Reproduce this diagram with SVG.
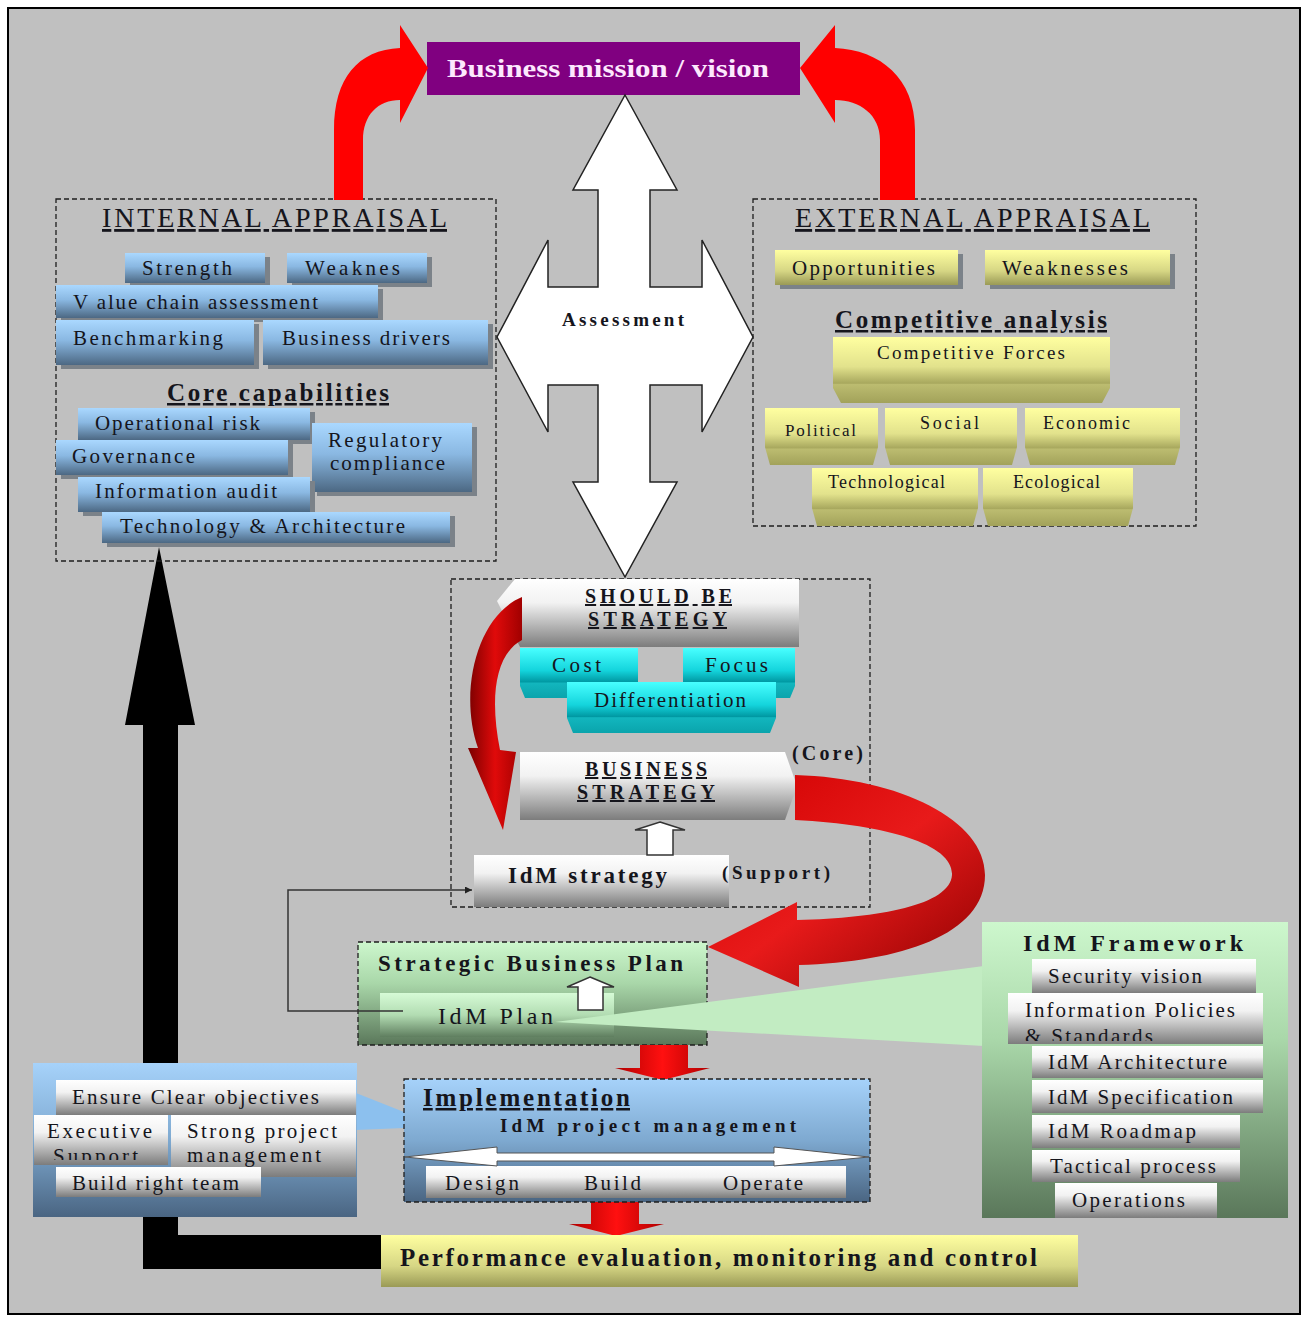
<svg xmlns="http://www.w3.org/2000/svg" width="1310" height="1318" viewBox="0 0 1310 1318">
<style>
text{font-family:"Liberation Serif","Times New Roman",serif;fill:#15151c}
.t{font-size:21px}
.s16{font-size:18px}
.b{font-weight:bold}
.u{text-decoration:underline}
.dash{fill:none;stroke:#1e1e1e;stroke-width:1.3;stroke-dasharray:5 3}
.sh{fill:#7b8289}
.blue{fill:url(#gBlue)}
.yel{fill:url(#gYel)}
.cy{fill:url(#gCyan)}
.wh{fill:url(#gWhite)}
.blk{fill:none;stroke:#333;stroke-width:1.5}
.wa{fill:#fff;stroke:#333;stroke-width:1.5}
</style>
<defs>
<linearGradient id="gBlue" x1="0" y1="0" x2="0" y2="1"><stop offset="0" stop-color="#aad8ff"/><stop offset="0.45" stop-color="#8ab8e2"/><stop offset="1" stop-color="#4c6883"/></linearGradient>
<linearGradient id="gBlueBox" x1="0" y1="0" x2="0" y2="1"><stop offset="0" stop-color="#a6d2fa"/><stop offset="0.5" stop-color="#7ea9d0"/><stop offset="1" stop-color="#4a6582"/></linearGradient>
<linearGradient id="gYel" x1="0" y1="0" x2="0" y2="1"><stop offset="0" stop-color="#ffffa0"/><stop offset="0.45" stop-color="#e2e28c"/><stop offset="0.7" stop-color="#a8a85e"/><stop offset="0.72" stop-color="#bcbc70"/><stop offset="1" stop-color="#a2a25a"/></linearGradient>
<linearGradient id="gYel2" x1="0" y1="0" x2="0" y2="1"><stop offset="0" stop-color="#ffffa0"/><stop offset="0.6" stop-color="#d6d684"/><stop offset="1" stop-color="#9a9a56"/></linearGradient>
<linearGradient id="gCyan" x1="0" y1="0" x2="0" y2="1"><stop offset="0" stop-color="#48ffff"/><stop offset="0.45" stop-color="#14d4dc"/><stop offset="0.68" stop-color="#0098a2"/><stop offset="0.7" stop-color="#12b6be"/><stop offset="1" stop-color="#0aa4ac"/></linearGradient>
<linearGradient id="gWhite" x1="0" y1="0" x2="0" y2="1"><stop offset="0" stop-color="#ffffff"/><stop offset="0.35" stop-color="#f2f2f2"/><stop offset="1" stop-color="#7c7c7c"/></linearGradient>
<linearGradient id="gGreen" x1="0" y1="0" x2="0" y2="1"><stop offset="0" stop-color="#cdf7cd"/><stop offset="0.4" stop-color="#a9d7a9"/><stop offset="1" stop-color="#5a775a"/></linearGradient>
<linearGradient id="gGreen2" x1="0" y1="0" x2="0" y2="1"><stop offset="0" stop-color="#d6fbd6"/><stop offset="0.5" stop-color="#b2dcb2"/><stop offset="1" stop-color="#5f7e5f"/></linearGradient>
<linearGradient id="gRedL" x1="0" y1="0" x2="1" y2="0"><stop offset="0" stop-color="#7a0000"/><stop offset="0.5" stop-color="#e00a0a"/><stop offset="1" stop-color="#a00000"/></linearGradient>
<linearGradient id="gRedR" x1="0" y1="0" x2="1" y2="1"><stop offset="0" stop-color="#d00000"/><stop offset="0.5" stop-color="#e81a1a"/><stop offset="1" stop-color="#8a0000"/></linearGradient>
<linearGradient id="gRedD" x1="0" y1="0" x2="1" y2="0"><stop offset="0" stop-color="#b00000"/><stop offset="0.5" stop-color="#ff1010"/><stop offset="1" stop-color="#b00000"/></linearGradient>
<marker id="arr" viewBox="0 0 10 10" refX="10" refY="5" markerWidth="7" markerHeight="7" markerUnits="userSpaceOnUse" orient="auto"><path d="M0,0 L10,5 L0,10 Z" fill="#222"/></marker>
<clipPath id="cExec"><rect x="34" y="1115" width="134" height="45"/></clipPath>
<clipPath id="cPol"><rect x="1008" y="993" width="255" height="48"/></clipPath>
</defs>

<rect x="0" y="0" width="1310" height="1318" fill="#ffffff"/>
<rect x="8" y="8" width="1292" height="1306" fill="#c0c0c0" stroke="#000" stroke-width="2"/>

<g id="connectors-back">
<polygon points="159,547 195,725 178,725 178,1235 381,1235 381,1269 143,1269 143,725 125,725" fill="#000"/>
<polygon points="356,1093 404,1112 404,1128 356,1130" fill="#8cc0ee"/>
</g>

<g id="mission">
<rect x="427" y="42" width="373" height="53" fill="#800080"/>
<text x="447" y="77" class="b" font-size="26" textLength="322" lengthAdjust="spacingAndGlyphs" style="fill:#fde8fd">Business mission / vision</text>
</g>

<g id="internal-appraisal">
<rect x="56" y="199" width="440" height="362" class="dash"/>
<text x="102" y="227" font-size="28" class="u" textLength="345">INTERNAL APPRAISAL</text>
<rect x="130" y="257" width="140" height="30" class="sh"/><rect x="125" y="253" width="140" height="30" class="blue"/>
<text x="142" y="275" class="t" textLength="90">Strength</text>
<rect x="292" y="257" width="140" height="30" class="sh"/><rect x="287" y="253" width="140" height="30" class="blue"/>
<text x="305" y="275" class="t" textLength="95">Weaknes</text>
<rect x="61" y="289" width="322" height="33" class="sh"/><rect x="56" y="285" width="322" height="33" class="blue"/>
<text x="73" y="309" class="t" textLength="245">V alue chain assessment</text>
<rect x="61" y="324" width="198" height="45" class="sh"/><rect x="56" y="320" width="198" height="45" class="blue"/>
<text x="73" y="345" class="t" textLength="150">Benchmarking</text>
<rect x="268" y="324" width="225" height="45" class="sh"/><rect x="263" y="320" width="225" height="45" class="blue"/>
<text x="282" y="345" class="t" textLength="168">Business drivers</text>
<text x="167" y="401" font-size="25" class="b u" textLength="222">Core capabilities</text>
<rect x="83" y="412" width="232" height="32" class="sh"/><rect x="78" y="408" width="232" height="32" class="blue"/>
<text x="95" y="430" class="t" textLength="165">Operational risk</text>
<rect x="317" y="427" width="160" height="69" class="sh"/><rect x="312" y="423" width="160" height="69" class="blue"/>
<text x="328" y="447" class="t" textLength="114">Regulatory</text>
<text x="330" y="470" class="t" textLength="115">compliance</text>
<rect x="61" y="444" width="232" height="35" class="sh"/><rect x="56" y="440" width="232" height="35" class="blue"/>
<text x="72" y="463" class="t" textLength="123">Governance</text>
<rect x="83" y="481" width="232" height="35" class="sh"/><rect x="78" y="477" width="232" height="35" class="blue"/>
<text x="95" y="498" class="t" textLength="182">Information audit</text>
<rect x="107" y="516" width="348" height="31" class="sh"/><rect x="102" y="512" width="348" height="31" class="blue"/>
<text x="120" y="533" class="t" textLength="285">Technology &amp; Architecture</text>
</g>

<g id="external-appraisal">
<rect x="753" y="199" width="443" height="327" class="dash"/>
<text x="795" y="227" font-size="28" class="u" textLength="355">EXTERNAL APPRAISAL</text>
<rect x="780" y="254" width="183" height="35" class="sh"/><rect x="775" y="250" width="183" height="35" fill="url(#gYel2)"/>
<text x="792" y="275" class="t" textLength="143">Opportunities</text>
<rect x="990" y="254" width="185" height="35" class="sh"/><rect x="985" y="250" width="185" height="35" fill="url(#gYel2)"/>
<text x="1002" y="275" class="t" textLength="126">Weaknesses</text>
<text x="835" y="328" font-size="25" class="b u" textLength="272">Competitive analysis</text>
<polygon points="833,337 1110,337 1110,388 1102,403 841,403 833,388" class="yel"/>
<text x="877" y="359" font-size="19" textLength="188">Competitive Forces</text>
<polygon points="765,408 878,408 878,447 873,465 770,465 765,447" class="yel"/>
<text x="785" y="436" font-size="17" textLength="71">Political</text>
<polygon points="885,408 1017,408 1017,447 1012,465 890,465 885,447" class="yel"/>
<text x="920" y="429" class="s16" textLength="59">Social</text>
<polygon points="1025,408 1180,408 1180,447 1175,465 1030,465 1025,447" class="yel"/>
<text x="1043" y="429" class="s16" textLength="87">Economic</text>
<polygon points="812,468 978,468 978,508 973,526 817,526 812,508" class="yel"/>
<text x="828" y="488" class="s16" textLength="117">Technological</text>
<polygon points="983,468 1133,468 1133,508 1128,526 988,526 983,508" class="yel"/>
<text x="1013" y="488" class="s16" textLength="87">Ecological</text>
</g>

<g id="strategy">
<rect x="451" y="579" width="419" height="328" class="dash"/>
<polygon points="515,579 799,579 799,647 520,647 497,601" class="wh"/>
<text x="585" y="603" font-size="20" class="b u" textLength="147">SHOULD BE</text>
<text x="588" y="626" font-size="20" class="b u" textLength="139">STRATEGY</text>
<polygon points="520,648 638,648 638,686 633,698 525,698 520,686" class="cy"/>
<text x="552" y="672" class="t" textLength="49">Cost</text>
<polygon points="683,648 795,648 795,686 790,698 688,698 683,686" class="cy"/>
<text x="705" y="672" class="t" textLength="63">Focus</text>
<polygon points="567,682 776,682 776,718 770,733 573,733 567,718" class="cy"/>
<text x="594" y="707" class="t" textLength="152">Differentiation</text>
<polygon points="520,752 785,752 797,786 785,820 520,820" class="wh"/>
<text x="585" y="776" font-size="20" class="b u" textLength="122">BUSINESS</text>
<text x="577" y="799" font-size="20" class="b u" textLength="138">STRATEGY</text>
<text x="792" y="760" font-size="20" class="b" textLength="71">(Core)</text>
<rect x="474" y="855" width="255" height="52" class="wh"/>
<text x="508" y="883" font-size="23" class="b" textLength="159">IdM strategy</text>
<text x="722" y="879" font-size="19" class="b" textLength="108">(Support)</text>
</g>

<g id="strategic-business-plan">
<rect x="358" y="942" width="349" height="103" fill="url(#gGreen)"/>
<rect x="380" y="993" width="234" height="44" fill="url(#gGreen2)"/>
<rect x="358" y="942" width="349" height="103" class="dash"/>
<text x="378" y="971" font-size="23" class="b" textLength="305">Strategic Business Plan</text>
<text x="438" y="1024" font-size="24" textLength="115">IdM Plan</text>
</g>

<g id="connectors">
<path d="M334,200 L334,130 C334,78 358,50 400,48 L400,25 L428,68 L400,123 L400,100 C378,100 363,115 363,140 L363,200 Z" fill="#ff0000"/>
<path d="M915,200 L915,130 C915,78 880,50 835,48 L835,25 L800,68 L835,123 L835,100 C860,100 880,115 880,140 L880,200 Z" fill="#ff0000"/>
<polygon points="625,95 677,190 650,190 650,287 702,287 702,240 753,337 702,432 702,385 650,385 650,482 677,482 625,577 573,482 598,482 598,385 548,385 548,432 497,337 548,240 548,287 598,287 598,190 573,190" fill="#fff" stroke="#222" stroke-width="1.5"/>
<text x="562" y="326" font-size="19" class="b" textLength="122">Assessment</text>
<path d="M522,597 C478,615 458,690 478,748 L468,748 L503,830 L516,752 L500,750 C490,700 494,655 522,640 Z" fill="url(#gRedL)"/>
<path d="M795,775 C900,778 985,820 985,875 C985,935 900,962 799,965 L799,987 L708,947 L797,902 L797,920 C880,918 950,905 952,875 C954,845 890,825 795,820 Z" fill="url(#gRedR)"/>
<polygon points="660,822 685,830 673,830 673,855 647,855 647,830 635,830" class="wa"/>
<polygon points="590,977 614,987 603,987 603,1010 578,1010 578,987 567,987" class="wa"/>
<path d="M403,1011 H288 V890 H472" class="blk" marker-end="url(#arr)"/>
<polygon points="555,1022 984,966 984,1046" fill="#c2ecc2"/>
<polygon points="640,1045 688,1045 688,1068 710,1068 663,1080 615,1068 640,1068" fill="url(#gRedD)"/>
<polygon points="591,1202 639,1202 639,1224 664,1224 616,1236 569,1224 591,1224" fill="url(#gRedD)"/>
</g>

<g id="idm-framework">
<rect x="982" y="922" width="306" height="296" fill="url(#gGreen)"/>
<text x="1023" y="951" font-size="24" class="b" textLength="220">IdM Framework</text>
<rect x="1032" y="959" width="224" height="34" class="wh"/>
<text x="1048" y="983" class="t" textLength="154">Security vision</text>
<rect x="1008" y="993" width="255" height="51" class="wh"/>
<text x="1025" y="1017" class="t" textLength="210">Information Policies</text>
<text x="1025" y="1043" class="t" textLength="128" clip-path="url(#cPol)">&amp; Standards</text>
<rect x="1032" y="1046" width="231" height="32" class="wh"/>
<text x="1048" y="1069" class="t" textLength="179">IdM Architecture</text>
<rect x="1032" y="1080" width="231" height="33" class="wh"/>
<text x="1048" y="1104" class="t" textLength="185">IdM Specification</text>
<rect x="1032" y="1115" width="208" height="33" class="wh"/>
<text x="1048" y="1138" class="t" textLength="148">IdM Roadmap</text>
<rect x="1032" y="1150" width="208" height="32" class="wh"/>
<text x="1050" y="1173" class="t" textLength="166">Tactical process</text>
<rect x="1055" y="1183" width="162" height="35" class="wh"/>
<text x="1072" y="1207" class="t" textLength="113">Operations</text>
</g>

<g id="success-factors">
<rect x="33" y="1063" width="324" height="154" fill="url(#gBlueBox)"/>
<rect x="56" y="1080" width="300" height="35" class="wh"/>
<text x="72" y="1104" class="t" textLength="247">Ensure Clear objectives</text>
<rect x="34" y="1115" width="134" height="50" class="wh"/>
<text x="47" y="1138" class="t" textLength="105">Executive</text>
<text x="53" y="1163" class="t" textLength="85" clip-path="url(#cExec)">Support</text>
<rect x="171" y="1115" width="185" height="62" class="wh"/>
<text x="187" y="1138" class="t" textLength="150">Strong project</text>
<text x="187" y="1162" class="t" textLength="134">management</text>
<rect x="56" y="1167" width="205" height="30" class="wh"/>
<text x="72" y="1190" class="t" textLength="167">Build right team</text>
</g>

<g id="implementation">
<rect x="404" y="1079" width="466" height="123" fill="url(#gBlueBox)"/>
<rect x="404" y="1079" width="466" height="123" class="dash"/>
<text x="423" y="1106" font-size="25" class="b u" textLength="207">Implementation</text>
<text x="500" y="1132" font-size="19" class="b" textLength="296">IdM project management</text>
<rect x="426" y="1166" width="420" height="32" class="wh"/>
<polygon points="405,1157 497,1147 497,1153 774,1153 774,1147 869,1157 774,1166 774,1161 497,1161 497,1166" fill="#fff" stroke="#555" stroke-width="1"/>
<text x="445" y="1190" class="t" textLength="74">Design</text>
<text x="584" y="1190" class="t" textLength="57">Build</text>
<text x="723" y="1190" class="t" textLength="80">Operate</text>
</g>

<g id="performance">
<rect x="381" y="1235" width="697" height="52" fill="url(#gYel2)"/>
<text x="400" y="1266" font-size="25" class="b" textLength="637">Performance evaluation, monitoring and control</text>
</g>
</svg>
